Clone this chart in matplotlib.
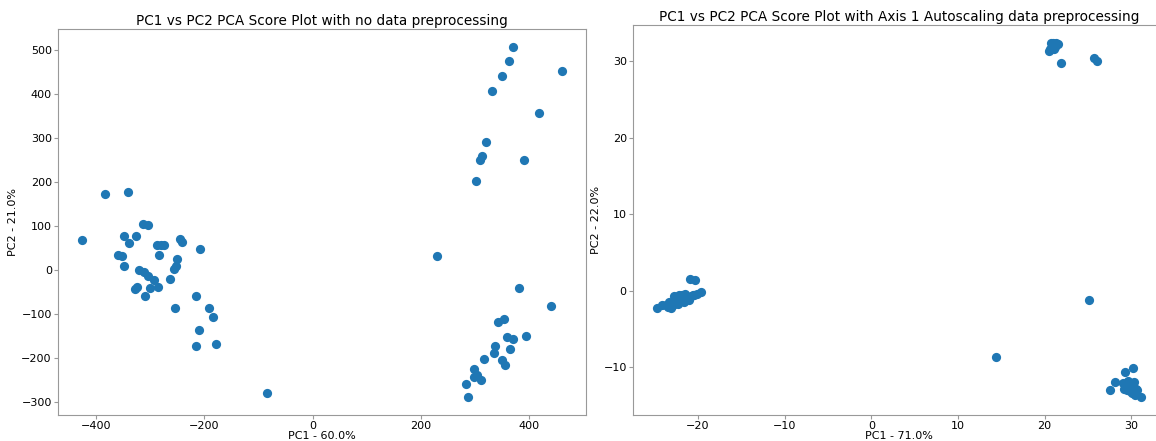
import matplotlib
matplotlib.use("Agg")
import matplotlib.pyplot as plt

# PCA scores, no preprocessing
pc1_raw = [-426, -384, -342, -313, -305, -348, -327, -339, -359, -353,
           -349, -288, -281, -274, -284, -245, -242, -208, -250, -252,
           -257, -264, -321, -311, -305, -294, -300, -285, -329, -324,
           -310, -254, -215, -191, -184, -210, -216, -178, -85,
           370, 362, 460, 350, 331, 417, 320, 312, 308, 390, 301, 230,
           381, 439, 341, 353, 359, 369, 394, 337, 364, 335, 316, 350,
           354, 297, 297, 304, 311, 282, 287]
pc2_raw = [68, 173, 177, 105, 103, 78, 78, 61, 33, 32,
           9, 56, 56, 57, 33, 71, 64, 47, 24, 9,
           1, -20, -1, -5, -14, -23, -42, -38, -44, -39,
           -60, -87, -59, -87, -108, -137, -172, -169, -281,
           508, 476, 452, 442, 408, 358, 292, 258, 250, 249, 202, 32,
           -42, -83, -118, -112, -153, -158, -150, -173, -179, -188, -203, -204,
           -216, -225, -243, -238, -250, -260, -290]

# PCA scores, axis 1 autoscaling
pc1_auto = [-24.7, -24.1, -23.7, -23.4, -23.1, -22.9, -22.7, -22.8, -22.5, -22.3,
            -22.1, -21.9, -21.6, -21.4, -21.2, -21.0, -20.8, -20.6, -20.4, -20.1,
            -19.6, -22.6, -22.2, -21.8, -23.3, -21.5, -20.9, -20.3,
            20.5, 20.6, 20.8, 20.9, 21.0, 21.1, 21.3, 21.5, 20.7, 21.2, 21.9,
            25.7, 26.0, 25.1, 14.4,
            30.2, 29.3, 28.1, 27.6, 31.1, 29.0, 29.3, 29.6, 29.8, 30.0,
            30.3, 29.5, 30.1, 30.5, 30.4, 29.2, 30.7, 29.9, 30.2]
pc2_auto = [-2.3, -1.9, -1.8, -2.1, -2.3, -1.9, -1.5, -0.7, -1.2, -1.7,
            -1.3, -0.9, -1.4, -1.0, -0.8, -1.2, -0.7, -0.6, -0.5, -0.4,
            -0.2, -0.9, -0.6, -0.5, -1.5, -0.4, 1.56, 1.43,
            31.3, 31.6, 31.9, 32.2, 32.4, 31.6, 32.3, 32.2, 32.4, 31.9, 29.8,
            30.4, 30.0, -1.2, -8.6,
            -10.1, -10.6, -11.9, -13.0, -13.9, -12.0, -12.4, -11.8, -12.6, -12.1,
            -11.9, -13.0, -13.3, -12.8, -13.6, -12.8, -13.0, -13.1, -12.4]

titles = ["PC1 vs PC2 PCA Score Plot with no data preprocessing",
          "PC1 vs PC2 PCA Score Plot with Axis 1 Autoscaling data preprocessing"]
xlabels = ["PC1 - 60.0%", "PC1 - 71.0%"]
ylabels = ["PC2 - 21.0%", "PC2 - 22.0%"]

W, H = 1156, 441
fig = plt.figure(figsize=(W / 100, H / 100), dpi=100)
ax1 = fig.add_axes([58 / W, 26 / H, 528 / W, 386 / H])
ax2 = fig.add_axes([633 / W, 26 / H, 532 / W, 390 / H])

for ax, x, y, t, xl, yl in zip([ax1, ax2], [pc1_raw, pc1_auto], [pc2_raw, pc2_auto],
                                titles, xlabels, ylabels):
    ax.scatter(x, y, s=44, color="#1f77b4", linewidths=0)
    ax.set_title(t, fontsize=9.8, pad=3)
    ax.set_xlabel(xl, fontsize=8, labelpad=0)
    ax.set_ylabel(yl, fontsize=8, labelpad=2)
    for sp in ax.spines.values():
        sp.set_color("#999999")
    ax.tick_params(length=3, width=0.8, color="#999999", labelsize=8, pad=1.5)

fig.savefig("out.png", dpi=100)
